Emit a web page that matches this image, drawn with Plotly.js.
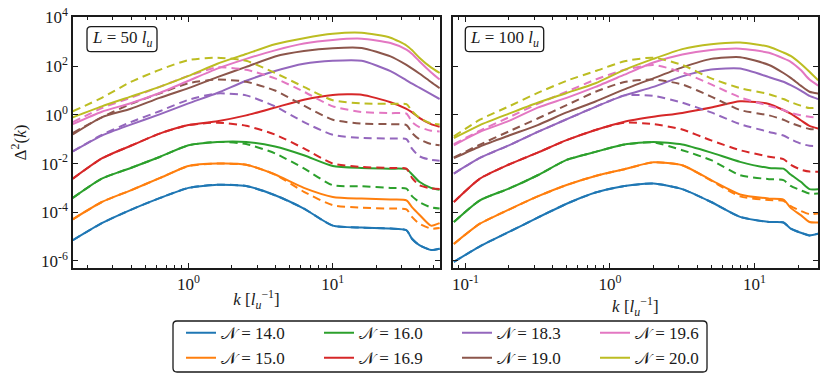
<!DOCTYPE html>
<html>
<head>
<meta charset="utf-8">
<script src="https://cdn.plot.ly/plotly-3.0.1.min.js"></script>
<style>
  html, body { margin: 0; padding: 0; background: #fff; }
  #chart { width: 830px; height: 384px; }
</style>
</head>
<body>
<div id="chart"></div>
<script>
// Delta^2(k) for two box sizes, one curve pair (solid / dashed) per N
// every series is stored as log10(Delta^2)

let nLabels = ['14.0', '15.0', '16.0', '16.9', '18.3', '19.0', '19.6', '20.0'];

let kLeft = [0.158, 0.251, 0.398, 0.631, 1.0, 1.585, 2.512, 3.981, 6.31, 10.0, 15.85, 25.12, 32.4, 35.5, 39.8, 47.9, 55.0];
let kRight = [0.0832, 0.126, 0.2, 0.316, 0.501, 0.794, 1.259, 1.995, 3.162, 5.012, 7.943, 12.59, 15.85, 17.78, 20.89, 23.99, 27.54];

// L = 50 l_u
let leftSolid = [
  [-5.15, -4.45, -3.90, -3.42, -3.00, -2.87, -2.92, -3.30, -3.85, -4.55, -4.63, -4.67, -4.74, -5.10, -5.35, -5.55, -5.50],
  [-4.29, -3.58, -3.10, -2.60, -2.10, -2.00, -2.05, -2.45, -3.00, -3.37, -3.44, -3.48, -3.51, -3.80, -4.10, -4.55, -4.45],
  [-3.41, -2.62, -2.18, -1.73, -1.25, -1.11, -1.11, -1.30, -1.66, -2.10, -2.18, -2.21, -2.23, -2.45, -2.75, -3.00, -3.08],
  [-2.62, -1.79, -1.27, -0.77, -0.42, -0.26, -0.02, 0.30, 0.62, 0.82, 0.83, 0.52, 0.25, 0.10, -0.12, -0.38, -0.49],
  [-1.50, -0.85, -0.40, 0.02, 0.47, 0.90, 1.40, 1.80, 2.10, 2.22, 2.22, 1.80, 1.42, 1.28, 1.12, 0.85, 0.65],
  [-0.80, -0.10, 0.25, 0.70, 1.10, 1.55, 1.97, 2.40, 2.62, 2.74, 2.75, 2.40, 2.05, 1.90, 1.70, 1.35, 1.10],
  [-0.38, 0.13, 0.48, 0.90, 1.40, 1.90, 2.30, 2.65, 2.93, 3.08, 3.13, 2.95, 2.68, 2.50, 2.20, 1.75, 1.45],
  [-0.10, 0.35, 0.75, 1.15, 1.60, 2.10, 2.50, 2.90, 3.15, 3.33, 3.37, 3.17, 2.85, 2.65, 2.35, 1.95, 1.72]
];
let leftDashed = [
  [-5.15, -4.45, -3.90, -3.42, -3.00, -2.87, -2.92, -3.30, -3.85, -4.55, -4.63, -4.67, -4.74, -5.10, -5.35, -5.55, -5.50],
  [-4.29, -3.58, -3.10, -2.60, -2.10, -2.00, -2.05, -2.45, -3.16, -3.71, -3.81, -3.85, -3.88, -4.20, -4.47, -4.67, -4.65],
  [-3.41, -2.62, -2.18, -1.73, -1.25, -1.11, -1.20, -1.58, -2.20, -2.89, -2.93, -3.00, -3.03, -3.35, -3.58, -3.80, -3.85],
  [-2.62, -1.79, -1.27, -0.77, -0.42, -0.32, -0.45, -0.81, -1.38, -2.00, -2.14, -2.18, -2.21, -2.60, -2.89, -3.02, -3.05],
  [-1.50, -0.82, -0.30, 0.15, 0.62, 0.88, 0.80, 0.35, -0.30, -0.82, -0.95, -0.97, -1.00, -1.40, -1.70, -1.85, -1.88],
  [-0.74, -0.10, 0.45, 0.88, 1.30, 1.45, 1.36, 1.00, 0.38, -0.20, -0.36, -0.38, -0.42, -0.75, -1.00, -1.20, -1.25],
  [-0.30, 0.28, 0.70, 1.15, 1.60, 1.95, 1.85, 1.50, 0.95, 0.35, 0.12, 0.07, 0.05, -0.30, -0.50, -0.65, -0.68],
  [0.15, 0.70, 1.35, 1.85, 2.25, 2.35, 2.22, 1.72, 1.15, 0.60, 0.47, 0.45, 0.44, 0.15, -0.12, -0.35, -0.40]
];

// L = 100 l_u
let rightSolid = [
  [-6.04, -5.40, -4.81, -4.22, -3.65, -3.19, -2.92, -2.82, -3.05, -3.58, -4.19, -4.40, -4.42, -4.67, -4.84, -4.95, -4.88],
  [-5.30, -4.47, -3.89, -3.35, -2.88, -2.51, -2.23, -1.95, -2.07, -2.68, -3.27, -3.44, -3.48, -3.82, -4.12, -4.40, -4.42],
  [-4.40, -3.51, -3.03, -2.48, -1.85, -1.52, -1.22, -1.11, -1.22, -1.55, -1.93, -2.18, -2.21, -2.45, -2.75, -3.05, -3.05],
  [-3.58, -2.62, -2.04, -1.55, -1.04, -0.62, -0.28, -0.08, 0.08, 0.30, 0.56, 0.45, 0.20, 0.05, -0.22, -0.45, -0.56],
  [-2.41, -1.77, -1.25, -0.70, -0.18, 0.33, 0.80, 1.15, 1.58, 1.86, 1.90, 1.55, 1.36, 1.22, 1.00, 0.78, 0.65],
  [-1.78, -1.30, -0.85, -0.42, 0.10, 0.55, 1.05, 1.50, 1.95, 2.30, 2.37, 2.05, 1.72, 1.52, 1.20, 0.95, 0.88],
  [-1.25, -0.70, -0.25, 0.30, 0.70, 1.15, 1.65, 2.15, 2.48, 2.66, 2.72, 2.55, 2.32, 2.18, 1.84, 1.45, 1.20],
  [-0.95, -0.42, 0.05, 0.50, 0.90, 1.30, 1.85, 2.30, 2.70, 2.90, 2.97, 2.80, 2.56, 2.42, 2.10, 1.77, 1.42]
];
let rightDashed = [
  [-6.04, -5.40, -4.81, -4.22, -3.65, -3.19, -2.92, -2.82, -3.05, -3.58, -4.19, -4.40, -4.42, -4.67, -4.84, -4.95, -4.88],
  [-5.30, -4.47, -3.89, -3.35, -2.88, -2.51, -2.23, -1.95, -2.07, -2.70, -3.35, -3.50, -3.53, -3.75, -3.95, -4.08, -4.05],
  [-4.40, -3.51, -3.03, -2.48, -1.85, -1.52, -1.22, -1.13, -1.45, -1.86, -2.48, -2.64, -2.68, -2.92, -3.10, -3.23, -3.23],
  [-3.58, -2.62, -2.04, -1.55, -1.04, -0.62, -0.32, -0.38, -0.60, -1.05, -1.45, -1.72, -1.82, -2.05, -2.25, -2.33, -2.34],
  [-2.41, -1.77, -1.25, -0.70, -0.18, 0.33, 0.80, 0.78, 0.50, 0.10, -0.38, -0.70, -0.85, -1.00, -1.18, -1.27, -1.28],
  [-1.75, -1.22, -0.68, -0.15, 0.40, 0.95, 1.35, 1.45, 1.25, 0.75, 0.20, -0.02, -0.20, -0.33, -0.48, -0.58, -0.60],
  [-1.20, -0.65, -0.10, 0.45, 0.95, 1.45, 1.85, 2.05, 1.75, 1.25, 0.72, 0.37, 0.20, 0.08, -0.02, -0.08, -0.12],
  [-0.88, -0.20, 0.35, 0.90, 1.40, 1.80, 2.20, 2.35, 2.05, 1.50, 1.10, 0.85, 0.65, 0.52, 0.38, 0.28, 0.30]
];

let colors = ['#1f77b4', '#ff7f0e', '#2ca02c', '#d62728', '#9467bd', '#8c564b', '#e377c2', '#bcbd22'];

let serif = "'Liberation Serif', 'DejaVu Serif', serif";
let ink = '#1a1a1a';

// plot area in pixels: x 73..818, y 17..268
function px(x) { return (x - 73) / 745; }
function py(y) { return (268 - y) / 251; }

function roundBox(x0, y0, x1, y1) {
  let a = px(x0), b = px(x1), c = py(y1), d = py(y0);
  let rx = 4 / 745, ry = 4 / 251;
  return 'M' + (a + rx) + ',' + d + ' L' + (b - rx) + ',' + d + ' Q' + b + ',' + d + ' ' + b + ',' + (d - ry) +
    ' L' + b + ',' + (c + ry) + ' Q' + b + ',' + c + ' ' + (b - rx) + ',' + c +
    ' L' + (a + rx) + ',' + c + ' Q' + a + ',' + c + ' ' + a + ',' + (c + ry) +
    ' L' + a + ',' + (d - ry) + ' Q' + a + ',' + d + ' ' + (a + rx) + ',' + d + ' Z';
}

function pow10(arr) { return arr.map(function (v) { return Math.pow(10, v); }); }

var traces = [];
nLabels.forEach(function (n, i) {
  var leg = i < 2 ? 'legend' : 'legend' + (Math.floor(i / 2) + 1);
  var common = { type: 'scatter', mode: 'lines', legendgroup: 'n' + i, legend: leg, hoverinfo: 'skip' };
  traces.push(Object.assign({}, common, {
    x: kLeft, y: pow10(leftSolid[i]), xaxis: 'x', yaxis: 'y',
    name: '\u{1D4A9} = ' + n, showlegend: true,
    line: { color: colors[i], width: 2, shape: 'spline', smoothing: 0.6 }
  }));
  traces.push(Object.assign({}, common, {
    x: kLeft, y: pow10(leftDashed[i]), xaxis: 'x', yaxis: 'y', showlegend: false,
    line: { color: colors[i], width: 2, dash: '8px,5px', shape: 'spline', smoothing: 0.6 }
  }));
  traces.push(Object.assign({}, common, {
    x: kRight, y: pow10(rightSolid[i]), xaxis: 'x2', yaxis: 'y2', showlegend: false,
    line: { color: colors[i], width: 2, shape: 'spline', smoothing: 0.6 }
  }));
  traces.push(Object.assign({}, common, {
    x: kRight, y: pow10(rightDashed[i]), xaxis: 'x2', yaxis: 'y2', showlegend: false,
    line: { color: colors[i], width: 2, dash: '8px,5px', shape: 'spline', smoothing: 0.6 }
  }));
});

var tickFont = { family: serif, size: 17, color: ink };
var xTitle = '<i>k</i> [<i>l</i><sub><i>u</i></sub><sup>\u22121</sup>]';

function xAxis(dom, rng, vals, txt, anchor) {
  return {
    type: 'log', domain: dom, range: rng, anchor: anchor,
    tickmode: 'array', tickvals: vals, ticktext: txt,
    ticks: 'inside', ticklen: 5, tickwidth: 1, tickcolor: ink,
    minor: { ticks: 'inside', ticklen: 3, tickwidth: 1, tickcolor: ink, dtick: 'D1', showgrid: false },
    showline: true, linecolor: ink, linewidth: 1.6, mirror: 'allticks',
    showgrid: false, zeroline: false, tickfont: tickFont,
    title: { text: xTitle, font: { family: serif, size: 17, color: ink }, standoff: 0 }
  };
}

function yAxis(anchor, labels) {
  return {
    type: 'log', domain: [0, 1], range: [-6.29, 4.02], anchor: anchor,
    tickmode: 'array', tickvals: [1e-6, 1e-4, 1e-2, 1, 1e2, 1e4],
    ticktext: ['10<sup>-6</sup>', '10<sup>-4</sup>', '10<sup>-2</sup>', '10<sup>0</sup>', '10<sup>2</sup>', '10<sup>4</sup>'],
    showticklabels: labels,
    ticks: 'inside', ticklen: 5, tickwidth: 1, tickcolor: ink,
    showline: true, linecolor: ink, linewidth: 1.6, mirror: 'allticks',
    showgrid: false, zeroline: false, tickfont: tickFont
  };
}

function legendAt(x) {
  return {
    x: x, y: py(315.2), xanchor: 'left', yanchor: 'top', orientation: 'v',
    bgcolor: 'rgba(0,0,0,0)', borderwidth: 0, traceorder: 'normal',
    font: { family: serif, size: 17, color: ink }
  };
}

var yLeft = yAxis('x', true);
yLeft.title = { text: '\u0394<sup>2</sup>(<i>k</i>)', font: { family: serif, size: 17, color: ink }, standoff: 10 };

var boxFont = { family: serif, size: 17, color: ink };

var layout = {
  width: 830, height: 384,
  margin: { l: 73, r: 12, t: 17, b: 116, autoexpand: false },
  paper_bgcolor: '#fff', plot_bgcolor: '#fff',
  font: { family: serif, color: ink },
  showlegend: true,
  xaxis: xAxis([0, px(440)], [-0.80, 1.743], [1, 10], ['10<sup>0</sup>', '10<sup>1</sup>'], 'y'),
  yaxis: yLeft,
  xaxis2: xAxis([px(452.7), 1], [-1.088, 1.439], [0.1, 1, 10], ['10<sup>-1</sup>', '10<sup>0</sup>', '10<sup>1</sup>'], 'y2'),
  yaxis2: yAxis('x2', false),
  legend: legendAt(px(181)),
  legend2: legendAt(px(319)),
  legend3: legendAt(px(457)),
  legend4: legendAt(px(595)),
  shapes: [
    { type: 'path', xref: 'paper', yref: 'paper', path: roundBox(173, 321, 707, 372), line: { color: ink, width: 1.3 }, fillcolor: 'rgba(0,0,0,0)' },
    { type: 'path', xref: 'paper', yref: 'paper', path: roundBox(87, 26.7, 157, 51.7), line: { color: ink, width: 1.3 }, fillcolor: '#fff' },
    { type: 'path', xref: 'paper', yref: 'paper', path: roundBox(465.3, 26.7, 543.7, 51.7), line: { color: ink, width: 1.3 }, fillcolor: '#fff' }
  ],
  annotations: [
    { xref: 'paper', yref: 'paper', x: px(122), y: py(39.2), xanchor: 'center', yanchor: 'middle', text: '<i>L</i> = 50 <i>l</i><sub><i>u</i></sub>', showarrow: false, font: boxFont },
    { xref: 'paper', yref: 'paper', x: px(504.5), y: py(39.2), xanchor: 'center', yanchor: 'middle', text: '<i>L</i> = 100 <i>l</i><sub><i>u</i></sub>', showarrow: false, font: boxFont }
  ]
};

Plotly.newPlot('chart', traces, layout, { displayModeBar: false, staticPlot: true });
</script>
</body>
</html>
